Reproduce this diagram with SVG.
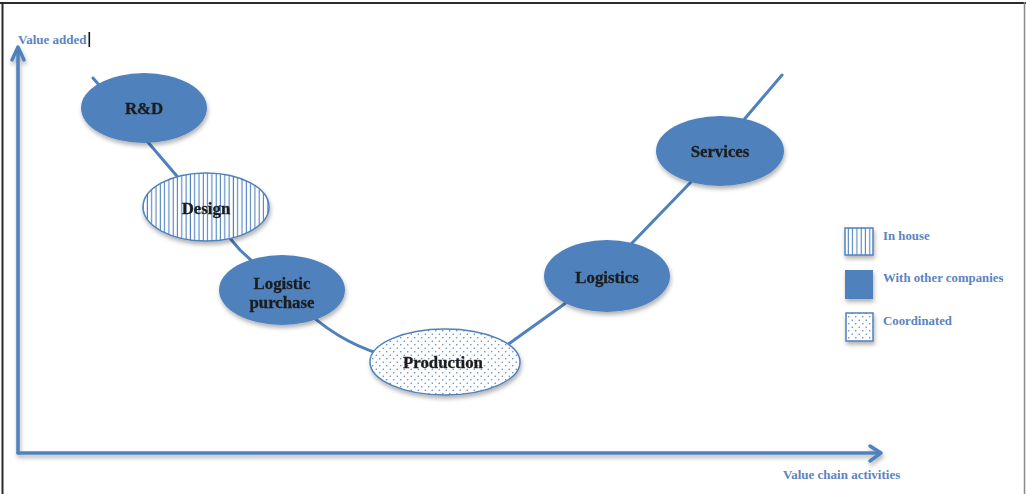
<svg xmlns="http://www.w3.org/2000/svg" width="1026" height="494" viewBox="0 0 1026 494">
  <defs>
    <style>
      .frame { stroke: #2b2b2b; stroke-width: 2; fill: none; }
      .axis { stroke: #4f81bd; stroke-width: 3.5; fill: none; stroke-linecap: round; stroke-linejoin: round; }
      .curve { stroke: #4f81bd; stroke-width: 3; fill: none; stroke-linejoin: round; stroke-linecap: round; }
      .solid { fill: #4f81bd; }
      .stripe { fill: url(#vstripes); stroke: #4f81bd; stroke-width: 1.5; }
      .dotted { fill: url(#dots); stroke: #4f81bd; stroke-width: 1.5; }
      .nodeText { font-family: "Liberation Serif", serif; font-weight: bold; font-size: 16.8px; fill: #1c1c1c; stroke: #1c1c1c; stroke-width: 0.3; text-anchor: middle; }
      .axisText { font-family: "Liberation Serif", serif; font-weight: bold; font-size: 13px; fill: #5b84bf; }
      .legendText { font-family: "Liberation Serif", serif; font-weight: bold; font-size: 12.8px; fill: #5b84bf; }
    </style>
    <pattern id="vstripes" patternUnits="userSpaceOnUse" width="4.3" height="10">
      <rect width="4.3" height="10" fill="#ffffff"/>
      <line x1="1.2" y1="0" x2="1.2" y2="10" stroke="#4f81bd" stroke-width="1.1"/>
    </pattern>
    <pattern id="dots" patternUnits="userSpaceOnUse" width="7" height="7">
      <rect width="7" height="7" fill="#ffffff"/>
      <circle cx="1.75" cy="1.75" r="0.75" fill="#4f81bd"/>
      <circle cx="5.25" cy="5.25" r="0.75" fill="#4f81bd"/>
    </pattern>
    <filter id="shadow" x="-20%" y="-20%" width="140%" height="150%">
      <feDropShadow dx="1" dy="3" stdDeviation="2" flood-color="#000" flood-opacity="0.3"/>
    </filter>
  </defs>

  <!-- page frame -->
  <line class="frame" x1="0" y1="3" x2="1026" y2="3"/>
  <line class="frame" x1="2.5" y1="2" x2="2.5" y2="494"/>
  <line x1="1024.5" y1="2" x2="1024.5" y2="494" stroke="#8a8a8a" stroke-width="1.5"/>

  <!-- axes -->
  <g id="axes" filter="url(#shadow)">
    <line class="axis" x1="18" y1="453" x2="18" y2="48"/>
    <polyline class="axis" points="12,60 18,47 24,60"/>
    <line class="axis" x1="18" y1="453" x2="880" y2="453"/>
    <polyline class="axis" points="870,446 881,453 870,461"/>
  </g>
  <text class="axisText" x="18" y="44">Value added</text>
  <rect x="88.5" y="32" width="1.6" height="15" fill="#111"/>
  <text class="axisText" x="783" y="479">Value chain activities</text>

  <!-- value curve -->
  <g id="connectors">
    <path class="curve" d="M93,78 L170,168 L240,250 L300,305 Q335,340 380,354 L444,362 L500,350 L563,305 L606,270 L690,183 L782,75"/>
  </g>

  <!-- activities -->
  <g id="node-rd" filter="url(#shadow)">
    <ellipse class="solid" cx="144" cy="108" rx="63" ry="35"/>
    <text class="nodeText" x="144" y="114">R&amp;D</text>
  </g>
  <g id="node-design" filter="url(#shadow)">
    <ellipse class="stripe" cx="206" cy="207" rx="63" ry="34"/>
    <text class="nodeText" x="206" y="214">Design</text>
  </g>
  <g id="node-logistic-purchase" filter="url(#shadow)">
    <ellipse class="solid" cx="282" cy="290" rx="63" ry="35"/>
    <text class="nodeText" x="282" y="289">Logistic</text>
    <text class="nodeText" x="282" y="308">purchase</text>
  </g>
  <g id="node-production" filter="url(#shadow)">
    <ellipse class="dotted" cx="445" cy="362" rx="75" ry="33"/>
    <text class="nodeText" x="443" y="368">Production</text>
  </g>
  <g id="node-logistics" filter="url(#shadow)">
    <ellipse class="solid" cx="607" cy="276" rx="63" ry="36"/>
    <text class="nodeText" x="607" y="283">Logistics</text>
  </g>
  <g id="node-services" filter="url(#shadow)">
    <ellipse class="solid" cx="720" cy="151" rx="64" ry="35"/>
    <text class="nodeText" x="720" y="157">Services</text>
  </g>

  <!-- legend -->
  <g id="legend">
    <rect class="stripe" x="845" y="228" width="28" height="27" filter="url(#shadow)"/>
    <text class="legendText" x="883" y="240">In house</text>
    <rect class="solid" x="845" y="270" width="28" height="29" filter="url(#shadow)"/>
    <text class="legendText" x="883" y="282">With other companies</text>
    <rect class="dotted" x="846" y="313" width="27" height="28" filter="url(#shadow)"/>
    <text class="legendText" x="883" y="325">Coordinated</text>
  </g>
</svg>
